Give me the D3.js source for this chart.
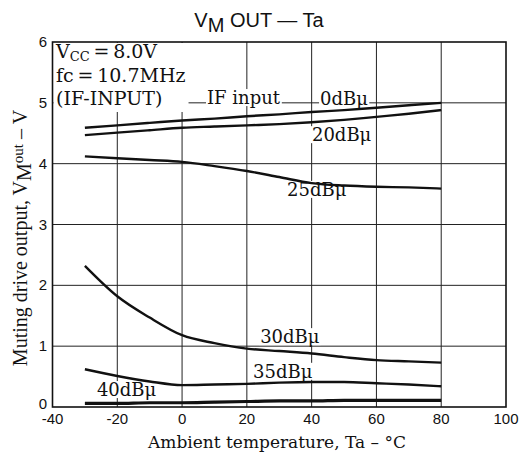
<!DOCTYPE html>
<html><head><meta charset="utf-8">
<script src="https://cdn.jsdelivr.net/npm/d3@7"></script>
<style>
html,body{margin:0;padding:0;background:#fff;}
svg{display:block;}
.serif{font-family:"DejaVu Serif","Liberation Serif",serif;fill:#111;}
.tserif{font-family:"Liberation Serif","DejaVu Serif",serif;fill:#111;}
.sans{font-family:"Liberation Sans",Arial,sans-serif;fill:#111;}
</style></head>
<body>
<svg id="c" width="519" height="459"></svg>
<script>
const temps = [-30,-20,-10,0,10,20,30,40,50,60,70,80];
const s0dB  = [4.59,4.63,4.67,4.71,4.74,4.78,4.81,4.85,4.88,4.92,4.96,5.00];
const s20dB = [4.47,4.51,4.55,4.59,4.61,4.63,4.65,4.68,4.72,4.77,4.82,4.88];
const s25dB = [4.12,4.09,4.06,4.03,3.96,3.88,3.78,3.68,3.64,3.62,3.61,3.59];
const s30dB = [2.32,1.82,1.47,1.18,1.05,0.96,0.92,0.88,0.82,0.77,0.75,0.73];
const s35dB = [0.62,0.51,0.42,0.36,0.37,0.38,0.40,0.41,0.41,0.39,0.37,0.34];
const s40dB = [0.06,0.06,0.07,0.07,0.08,0.09,0.10,0.10,0.11,0.11,0.11,0.11];
const seriesList = [s0dB,s20dB,s25dB,s30dB,s35dB,s40dB];
const xTicks = [-40,-20,0,20,40,60,80,100];
const yTicks = [0,1,2,3,4,5,6];
const curveLabels = [
  {t:"IF input", x:7.7, y:4.98},
  {t:"0dBμ", x:42.6, y:4.96},
  {t:"20dBμ", x:40.1, y:4.37},
  {t:"25dBμ", x:32.4, y:3.47},
  {t:"30dBμ", x:24.1, y:1.05},
  {t:"35dBμ", x:21.9, y:0.48},
  {t:"40dBμ", x:-26.3, y:0.18}
];

const svg = d3.select("#c");
const x = d3.scaleLinear().domain([-40,100]).range([52.5,506]);
const y = d3.scaleLinear().domain([0,6]).range([407,42]);

// gridlines
const g = svg.append("g");
g.selectAll("line.v").data(xTicks.slice(1,-1)).join("line")
  .attr("x1",d=>x(d)).attr("x2",d=>x(d)).attr("y1",y(0)).attr("y2",y(6))
  .attr("stroke","#222").attr("stroke-width",1);
g.selectAll("line.h").data(yTicks.slice(1,-1)).join("line")
  .attr("x1",x(-40)).attr("x2",x(100)).attr("y1",d=>y(d)).attr("y2",d=>y(d))
  .attr("stroke","#222").attr("stroke-width",1);

// condition box (white background covering grid)
const boxG = svg.append("g");
const boxBg = boxG.append("rect").attr("fill","#fff");
const bt = boxG.append("text").attr("class","serif").attr("font-size",19);
const l1 = bt.append("tspan").attr("x",56).attr("y",58);
l1.append("tspan").text("V");
l1.append("tspan").attr("font-size",13).attr("dy",3).text("CC");
l1.append("tspan").attr("dy",-3).text("\u2009=\u20098.0V");
bt.append("tspan").attr("x",56).attr("y",82).text("fc\u2009=\u200910.7MHz");
bt.append("tspan").attr("x",56).attr("y",105).text("(IF-INPUT)");
const bb = bt.node().getBBox();
boxBg.attr("x",x(-40)+1).attr("y",y(6)+1).attr("width",bb.x+bb.width-x(-40)+2).attr("height",bb.y+bb.height-y(6)+2);

// curve labels
const lab = svg.append("g");
curveLabels.forEach(c=>{
  const gg = lab.append("g");
  const r = gg.append("rect").attr("fill","#fff");
  const t = gg.append("text").attr("class","serif").attr("font-size",18)
    .attr("x",x(c.x)).attr("y",y(c.y)).text(c.t);
  const b = t.node().getBBox();
  r.attr("x",b.x-1).attr("y",b.y+2).attr("width",b.width+2).attr("height",b.height-4);
});

// curves
const line = d3.line().x((d,i)=>x(temps[i])).y(d=>y(d)).curve(d3.curveMonotoneX);
svg.append("g").selectAll("path").data(seriesList).join("path")
  .attr("d",line).attr("fill","none").attr("stroke","#111")
  .attr("stroke-width",(d,i)=>i===5?3.2:2.4);

// frame
svg.append("rect").attr("x",x(-40)).attr("y",y(6)).attr("width",x(100)-x(-40)).attr("height",y(0)-y(6))
  .attr("fill","none").attr("stroke","#111").attr("stroke-width",1.6);

// tick labels
svg.append("g").selectAll("text").data(xTicks).join("text").attr("class","sans")
  .attr("font-size",15).attr("text-anchor","middle")
  .attr("x",d=>x(d)).attr("y",424).text(d=>d<0?"-"+Math.abs(d):d);
svg.append("g").selectAll("text").data(yTicks).join("text").attr("class","sans")
  .attr("font-size",15).attr("text-anchor","end")
  .attr("x",47).attr("y",d=>d===0?y(d)+2:y(d)+5).text(d=>d);

// title
const tt = svg.append("text").attr("class","sans").attr("font-size",20)
  .attr("text-anchor","middle").attr("x",259).attr("y",27);
tt.append("tspan").text("V");
tt.append("tspan").attr("dy",5).text("M");
tt.append("tspan").attr("dy",-5).text(" OUT — Ta");

// x axis title
svg.append("text").attr("class","serif").attr("font-size",17).attr("text-anchor","middle")
  .attr("x",277).attr("y",448).text("Ambient temperature, Ta – °C");

// y axis title
const yt = svg.append("text").attr("class","tserif").attr("font-size",20).attr("text-anchor","middle")
  .attr("transform","translate(27,238) rotate(-90)");
yt.append("tspan").text("Muting drive output, V");
yt.append("tspan").attr("dy",4).text("M");
yt.append("tspan").attr("dy",-8).attr("font-size",15).text("out");
yt.append("tspan").attr("dy",4).text(" – V");
</script>
</body></html>
